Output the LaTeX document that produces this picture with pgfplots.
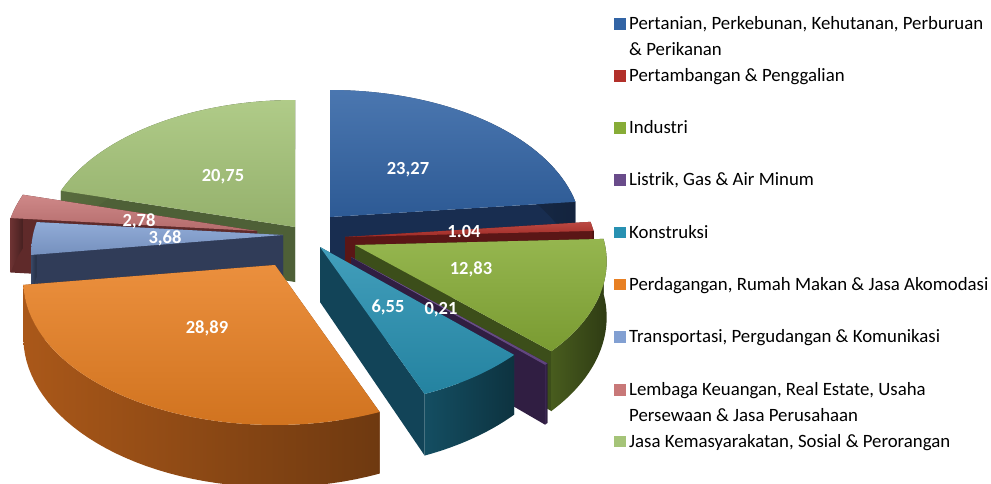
\documentclass[border=0pt]{standalone}
\usepackage{pgfplots}
\pgfplotsset{compat=1.18}
\usepackage{fontspec}
\setmainfont{Carlito}

% ---- data (percent shares), clockwise from 12 o'clock ----
\def\vA{23.27}% Pertanian
\def\vB{1.04}%  Pertambangan
\def\vC{12.83}% Industri
\def\vD{0.21}%  Listrik
\def\vE{6.55}%  Konstruksi
\def\vF{28.89}% Perdagangan
\def\vG{3.68}%  Transportasi
\def\vH{2.78}%  Lembaga Keuangan
\def\vI{20.75}% Jasa

\definecolor{blueT}{RGB}{50,100,165}\definecolor{blueS}{RGB}{30,55,95}\definecolor{blueR}{RGB}{24,45,80}
\definecolor{redT}{RGB}{178,48,42}\definecolor{redS}{RGB}{110,28,26}\definecolor{redR}{RGB}{90,22,22}
\definecolor{grnT}{RGB}{135,172,55}\definecolor{grnS}{RGB}{72,92,30}\definecolor{grnR}{RGB}{60,78,26}
\definecolor{purT}{RGB}{105,75,138}\definecolor{purS}{RGB}{58,38,80}\definecolor{purR}{RGB}{48,30,66}
\definecolor{tealT}{RGB}{40,145,178}\definecolor{tealS}{RGB}{20,78,98}\definecolor{tealR}{RGB}{18,68,88}
\definecolor{orgT}{RGB}{232,128,35}\definecolor{orgS}{RGB}{170,88,25}\definecolor{orgR}{RGB}{120,62,18}
\definecolor{lbT}{RGB}{130,160,210}\definecolor{lbS}{RGB}{55,70,100}\definecolor{lbR}{RGB}{48,60,88}
\definecolor{pkT}{RGB}{200,120,120}\definecolor{pkS}{RGB}{108,50,50}\definecolor{pkR}{RGB}{95,42,42}
\definecolor{lgT}{RGB}{165,196,120}\definecolor{lgS}{RGB}{88,108,62}\definecolor{lgR}{RGB}{78,96,55}

\pgfmathsetmacro{\tot}{\vA+\vB+\vC+\vD+\vE+\vF+\vG+\vH+\vI}
\pgfmathsetmacro{\aA}{0}
\pgfmathsetmacro{\aB}{\aA+360*\vA/\tot}
\pgfmathsetmacro{\aC}{\aB+360*\vB/\tot}
\pgfmathsetmacro{\aD}{\aC+360*\vC/\tot}
\pgfmathsetmacro{\aE}{\aD+360*\vD/\tot}
\pgfmathsetmacro{\aF}{\aE+360*\vE/\tot}
\pgfmathsetmacro{\aG}{\aF+360*\vF/\tot}
\pgfmathsetmacro{\aH}{\aG+360*\vG/\tot}
\pgfmathsetmacro{\aI}{\aH+360*\vH/\tot}
\pgfmathsetmacro{\aJ}{\aI+360*\vI/\tot}

% #1 start angle, #2 end angle, #3 apex x, #4 apex y, #5 top, #6 side, #7 radial face
\newcommand{\slice}[7]{%
 \addplot[fill=#7, draw=none, domain=0:3, samples=4, variable=\t]
   ({#3+rr(\t)*ux(#1)},{#4-rr(\t)*vy(#1)+dd(\t)*(rr(\t)*dz(#1)+(1-rr(\t))*55)});
 \addplot[fill=#7, draw=none, domain=0:3, samples=4, variable=\t]
   ({#3+rr(\t)*ux(#2)},{#4-rr(\t)*vy(#2)+dd(\t)*(rr(\t)*dz(#2)+(1-rr(\t))*55)});
 \addplot[left color=#6, right color=#6!65!black, draw=none, domain=0:81, samples=82, variable=\t]
   ({#3+ux(th(\t,#1,#2))},{#4-vy(th(\t,#1,#2))+(\t>40.5)*dz(th(\t,#1,#2))});
 \addplot[top color=#5!88!white, bottom color=#5!90!black, draw=none, domain=0:41, samples=42, variable=\t]
   ({#3+(\t>0.5)*ux(#1+(#2-#1)*(\t-1)/40)},{#4-(\t>0.5)*vy(#1+(#2-#1)*(\t-1)/40)});
}

\begin{document}
\begin{tikzpicture}
\begin{axis}[
  scale only axis, width=991pt, height=483pt,
  xmin=0, xmax=991, ymin=0, ymax=483, y dir=reverse,
  hide axis, clip=false,
  declare function={
    ux(\a)=250*sin(\a)/(1+0.115*cos(\a));
    vy(\a)=141.6*cos(\a)/(1+0.115*cos(\a));
    dz(\a)=55/(1+0.115*cos(\a));
    rr(\s)=(\s>0.5)*(\s<2.5);
    dd(\s)=(\s>1.5);
    th(\s,\p,\q)=(\s<40.5)*(\p+(\q-\p)*\s/40)+(\s>40.5)*(\q-(\q-\p)*(\s-41)/40);
  },
]
\slice{\aA}{\aB}{330}{217}{blueT}{blueS}{blueR}
\slice{\aI}{\aJ}{295}{227}{lgT}{lgS}{lgR}
\slice{\aH}{\aI}{257}{231}{pkT}{pkS}{pkR}
\slice{\aB}{\aC}{345}{237}{redT}{redS}{redR}
\slice{\aG}{\aH}{283}{235}{lbT}{lbS}{lbR}
\slice{\aC}{\aD}{355}{245}{grnT}{grnS}{grnR}
\slice{\aD}{\aE}{351}{257}{purT}{purS}{purR}
\slice{\aE}{\aF}{320}{247}{tealT}{tealS}{tealR}
\slice{\aF}{\aG}{275}{265}{orgT}{orgS}{orgR}

% value labels
\begin{scope}[every node/.style={text=white, font=\fontsize{18.5}{20}\selectfont\bfseries}]
\node at (axis cs:408,170) {23,27};
\node at (axis cs:464,231) {1.04};
\node at (axis cs:471,269) {12,83};
\node at (axis cs:441,310) {0,21};
\node at (axis cs:388,307) {6,55};
\node at (axis cs:207,328) {28,89};
\node at (axis cs:165,238) {3,68};
\node at (axis cs:139,221) {2,78};
\node at (axis cs:223,177) {20,75};
\end{scope}

% legend
\begin{scope}[every node/.style={anchor=base west, inner sep=0pt, text=black, font=\fontsize{18.8}{26}\selectfont}]
\fill[blueT] (axis cs:614,18) rectangle (axis cs:625.5,29.5);
\node at (axis cs:629,29.5) {Pertanian, Perkebunan, Kehutanan, Perburuan};
\node at (axis cs:629,55.5) {\& Perikanan};
\fill[redT] (axis cs:614,70.2) rectangle (axis cs:625.5,81.7);
\node at (axis cs:629,81.7) {Pertambangan \& Penggalian};
\fill[grnT] (axis cs:614,122) rectangle (axis cs:625.5,133.5);
\node at (axis cs:629,133.5) {Industri};
\fill[purT] (axis cs:614,174.2) rectangle (axis cs:625.5,185.7);
\node at (axis cs:629,185.7) {Listrik, Gas \& Air Minum};
\fill[tealT] (axis cs:614,226.8) rectangle (axis cs:625.5,238.3);
\node at (axis cs:629,238.3) {Konstruksi};
\fill[orgT] (axis cs:614,278.5) rectangle (axis cs:625.5,290);
\node at (axis cs:629,290) {Perdagangan, Rumah Makan \& Jasa Akomodasi};
\fill[lbT] (axis cs:614,331.2) rectangle (axis cs:625.5,342.7);
\node at (axis cs:629,342.7) {Transportasi, Pergudangan \& Komunikasi};
\fill[pkT] (axis cs:614,384.2) rectangle (axis cs:625.5,395.7);
\node at (axis cs:629,395.7) {Lembaga Keuangan, Real Estate, Usaha};
\node at (axis cs:629,421.7) {Persewaan \& Jasa Perusahaan};
\fill[lgT] (axis cs:614,435.8) rectangle (axis cs:625.5,447.3);
\node at (axis cs:629,447.3) {Jasa Kemasyarakatan, Sosial \& Perorangan};
\end{scope}
\end{axis}
\pgfresetboundingbox
\path[use as bounding box] (current axis.south west) rectangle (current axis.north east);
\end{tikzpicture}
\end{document}
